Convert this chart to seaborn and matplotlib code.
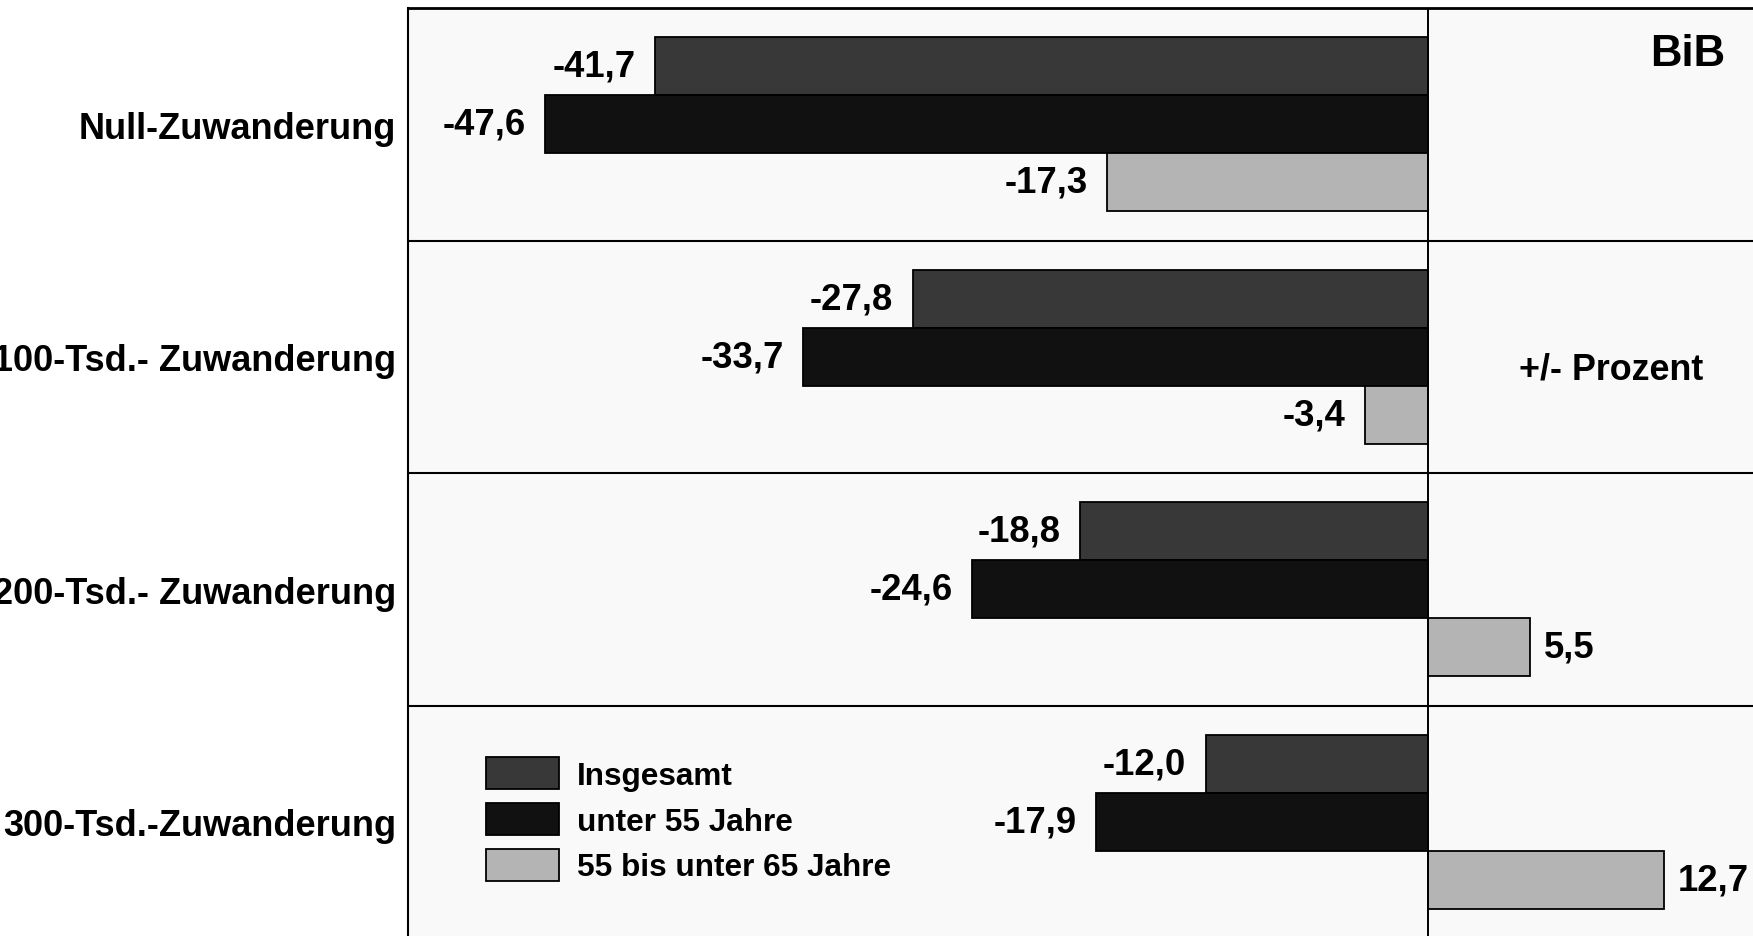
import numpy as np
import pandas as pd
from matplotlib import pyplot as plt
import seaborn as sns

# Werte aus der Grafik (Veraenderung in Prozent)
szenarien = ["Null-Zuwanderung", "100-Tsd.- Zuwanderung", "200-Tsd.- Zuwanderung", "300-Tsd.-Zuwanderung"]
gruppen = ["Insgesamt", "unter 55 Jahre", "55 bis unter 65 Jahre"]
insgesamt = [-41.7, -27.8, -18.8, -12.0]
unter_55 = [-47.6, -33.7, -24.6, -17.9]
von_55_bis_65 = [-17.3, -3.4, 5.5, 12.7]
farben = ["#383838", "#111111", "#b4b4b4"]

sns.set_style("white")
plt.rcParams['font.family'] = ['Liberation Sans', 'DejaVu Sans']
plt.rcParams['font.weight'] = 'bold'
plt.rcParams['text.color'] = 'black'
plt.rcParams['ytick.color'] = 'black'
plt.rcParams['ytick.labelcolor'] = 'black'

rows = []
for gruppe, werte in zip(gruppen, [insgesamt, unter_55, von_55_bis_65]):
    for sz, w in zip(szenarien, werte):
        rows.append({"szenario": sz, "gruppe": gruppe, "wert": w})
df = pd.DataFrame(rows)

fig = plt.figure(figsize=(17.53, 9.37), dpi=100)
ax = fig.add_axes([408 / 1753, -2 / 937, 1 - 408 / 1753, 930 / 937])
ax.set_facecolor("#f9f9f9")

sns.barplot(data=df, x="wert", y="szenario", hue="gruppe", orient="h",
            order=szenarien, hue_order=gruppen, palette=farben, saturation=1,
            width=0.75, edgecolor="black", linewidth=1.3, ax=ax)

ax.set_xlim(-55, 17.5)
ax.set_ylim(3.5, -0.5)
ax.axvline(0, color="black", lw=1.4, zorder=3)

# Werte an den Balken
for cont in ax.containers:
    for bar in cont:
        w = bar.get_width()
        yc = bar.get_y() + bar.get_height() / 2
        txt = f"{w:.1f}".replace(".", ",")
        if w < 0:
            ax.annotate(txt, (w, yc), xytext=(-14, 0), textcoords="offset points",
                        ha="right", va="center", fontsize=26.3, fontweight="bold", color="black")
        else:
            ax.annotate(txt, (w, yc), xytext=(10, 0), textcoords="offset points",
                        ha="left", va="center", fontsize=26.3, fontweight="bold", color="black")

# Achsen
ax.set_xticks([])
ax.set_xlabel("")
ax.set_ylabel("")
ax.set_yticks(range(len(szenarien)))
ax.set_yticklabels(szenarien, fontsize=26, fontweight="bold", color="black")
ax.tick_params(axis="y", which="major", length=0, pad=8.6)
ax.set_yticks([-0.5, 0.5, 1.5, 2.5, 3.5], minor=True)
ax.tick_params(axis="y", which="minor", length=9.4, width=1.5, color="black")
ax.grid(axis="y", which="minor", color="black", lw=1.5)
ax.set_axisbelow(True)
for s in ["right", "bottom"]:
    ax.spines[s].set_visible(False)
ax.spines["top"].set_color("black")
ax.spines["top"].set_linewidth(2)
ax.spines["left"].set_color("black")
ax.spines["left"].set_linewidth(1.5)

leg = ax.legend(loc="upper left", bbox_to_anchor=(486 / 1753, 1 - 758 / 937),
                bbox_transform=fig.transFigure, frameon=False, fontsize=22.7,
                handlelength=2.32, handleheight=1.2, handletextpad=0.57,
                labelspacing=0.38, borderpad=0, borderaxespad=0)
for t in leg.get_texts():
    t.set_fontweight("bold")
    t.set_color("black")

fig.text(1688 / 1753, 1 - 55 / 937, "BiB", ha="center", va="center", fontsize=31.5, fontweight="bold")
fig.text(1611 / 1753, 1 - 370 / 937, "+/- Prozent", ha="center", va="center", fontsize=25.8, fontweight="bold")

fig.savefig("out.png", dpi=100)
